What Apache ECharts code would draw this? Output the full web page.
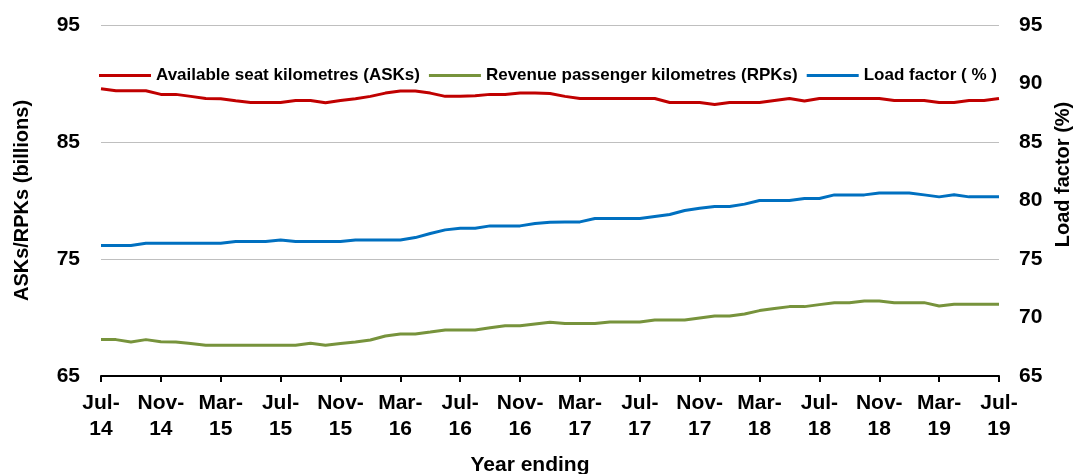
<!DOCTYPE html>
<html>
<head>
<meta charset="utf-8">
<script src="https://cdn.jsdelivr.net/npm/echarts@6/dist/echarts.min.js"></script>
<style>
  html, body { margin: 0; padding: 0; background: #fff; }
  #chart { width: 1080px; height: 474px; }
</style>
</head>
<body>
<div id="chart"></div>
<script>
const months = [
  'Jul-14', 'Aug-14', 'Sep-14', 'Oct-14', 'Nov-14', 'Dec-14', 'Jan-15', 'Feb-15', 'Mar-15', 'Apr-15', 'May-15', 'Jun-15',
  'Jul-15', 'Aug-15', 'Sep-15', 'Oct-15', 'Nov-15', 'Dec-15', 'Jan-16', 'Feb-16', 'Mar-16', 'Apr-16', 'May-16', 'Jun-16',
  'Jul-16', 'Aug-16', 'Sep-16', 'Oct-16', 'Nov-16', 'Dec-16', 'Jan-17', 'Feb-17', 'Mar-17', 'Apr-17', 'May-17', 'Jun-17',
  'Jul-17', 'Aug-17', 'Sep-17', 'Oct-17', 'Nov-17', 'Dec-17', 'Jan-18', 'Feb-18', 'Mar-18', 'Apr-18', 'May-18', 'Jun-18',
  'Jul-18', 'Aug-18', 'Sep-18', 'Oct-18', 'Nov-18', 'Dec-18', 'Jan-19', 'Feb-19', 'Mar-19', 'Apr-19', 'May-19', 'Jun-19',
  'Jul-19'
];

// ASKs, billions
const asks = [
  89.55, 89.38, 89.38, 89.38, 89.07, 89.07, 88.9, 88.72, 88.7, 88.52, 88.38, 88.38,
  88.38, 88.55, 88.55, 88.35, 88.55, 88.7, 88.9, 89.18, 89.35, 89.35, 89.18, 88.9,
  88.9, 88.95, 89.07, 89.07, 89.18, 89.18, 89.15, 88.9, 88.72, 88.72, 88.72, 88.72,
  88.72, 88.72, 88.38, 88.38, 88.38, 88.21, 88.38, 88.38, 88.38, 88.55, 88.72, 88.5,
  88.72, 88.72, 88.72, 88.72, 88.72, 88.55, 88.55, 88.55, 88.38, 88.38, 88.55, 88.55,
  88.72
];

// RPKs, billions
const rpks = [
  68.11, 68.11, 67.91, 68.11, 67.93, 67.91, 67.77, 67.62, 67.62, 67.62, 67.62, 67.62,
  67.62, 67.62, 67.8, 67.62, 67.77, 67.91, 68.08, 68.42, 68.59, 68.59, 68.76, 68.94,
  68.94, 68.94, 69.13, 69.3, 69.3, 69.45, 69.6, 69.48, 69.48, 69.48, 69.62, 69.62,
  69.62, 69.79, 69.79, 69.79, 69.96, 70.13, 70.13, 70.3, 70.59, 70.76, 70.93, 70.93,
  71.1, 71.27, 71.27, 71.42, 71.42, 71.27, 71.27, 71.27, 70.99, 71.13, 71.13, 71.13,
  71.13
];

// load factor, %
const loadFactor = [
  76.15, 76.15, 76.15, 76.35, 76.35, 76.35, 76.35, 76.35, 76.35, 76.49, 76.49, 76.49,
  76.63, 76.49, 76.49, 76.49, 76.49, 76.63, 76.63, 76.63, 76.63, 76.83, 77.18, 77.49,
  77.63, 77.63, 77.83, 77.83, 77.83, 78.03, 78.15, 78.17, 78.17, 78.46, 78.46, 78.46,
  78.46, 78.63, 78.8, 79.14, 79.34, 79.49, 79.49, 79.69, 80.0, 80.0, 80.0, 80.17,
  80.17, 80.48, 80.48, 80.48, 80.65, 80.65, 80.65, 80.48, 80.31, 80.5, 80.31, 80.31,
  80.31
];

const seriesNames = ['Available seat kilometres (ASKs)', 'Revenue passenger kilometres (RPKs)', 'Load factor ( % )'];
const colors = ['#C00000', '#77933C', '#0070C0'];

const font = '"Liberation Sans", Arial, sans-serif';
const chart = echarts.init(document.getElementById('chart'), null, { renderer: 'canvas' });

function lineSeries(name, data, color, axisIdx) {
  return {
    name: name,
    type: 'line',
    yAxisIndex: axisIdx,
    data: data,
    symbol: 'none',
    smooth: false,
    lineStyle: { color: color, width: 3 },
    itemStyle: { color: color }
  };
}

chart.setOption({
  animation: false,
  textStyle: { fontFamily: font },
  grid: { left: 101, right: 81, top: 25, bottom: 98, outerBoundsMode: 'none' },
  legend: {
    left: 94,
    top: 62,
    icon: 'rect',
    itemWidth: 52,
    itemHeight: 3,
    itemGap: 9,
    textStyle: { fontFamily: font, fontSize: 17, fontWeight: 'bold', color: '#000' },
    data: seriesNames
  },
  xAxis: {
    type: 'category',
    data: months,
    boundaryGap: false,
    name: 'Year ending',
    nameLocation: 'middle',
    nameGap: 79,
    nameTextStyle: { fontFamily: font, fontSize: 21, fontWeight: 'bold', color: '#000', padding: [0, 40, 0, 0] },
    axisLine: { lineStyle: { color: '#000', width: 2 } },
    axisTick: { show: true, interval: 3, length: 6, lineStyle: { color: '#000', width: 2 } },
    axisLabel: {
      interval: 3,
      margin: 14,
      fontFamily: font,
      fontSize: 21,
      fontWeight: 'bold',
      color: '#000',
      lineHeight: 26,
      formatter: v => v.replace('-', '-\n')
    },
    splitLine: { show: false }
  },
  yAxis: [
    {
      type: 'value',
      min: 65,
      max: 95,
      interval: 10,
      name: 'ASKs/RPKs (billions)',
      nameLocation: 'middle',
      nameRotate: 90,
      nameGap: 69,
      nameTextStyle: { fontFamily: font, fontSize: 20, fontWeight: 'bold', color: '#000' },
      axisLine: { show: false },
      axisTick: { show: false },
      axisLabel: { margin: 21, fontFamily: font, fontSize: 21, fontWeight: 'bold', color: '#000' },
      splitLine: { show: true, lineStyle: { color: '#BFBFBF', width: 1 } }
    },
    {
      type: 'value',
      min: 65,
      max: 95,
      interval: 5,
      name: 'Load factor (%)',
      nameLocation: 'middle',
      nameRotate: 90,
      nameGap: 52,
      nameTextStyle: { fontFamily: font, fontSize: 20, fontWeight: 'bold', color: '#000', padding: [0, 0, 0, 52] },
      axisLine: { show: false },
      axisTick: { show: false },
      axisLabel: { margin: 20, fontFamily: font, fontSize: 21, fontWeight: 'bold', color: '#000' },
      splitLine: { show: false }
    }
  ],
  series: [
    lineSeries(seriesNames[0], asks, colors[0], 0),
    lineSeries(seriesNames[1], rpks, colors[1], 0),
    lineSeries(seriesNames[2], loadFactor, colors[2], 1)
  ]
});

window.addEventListener('resize', () => chart.resize());
</script>
</body>
</html>
